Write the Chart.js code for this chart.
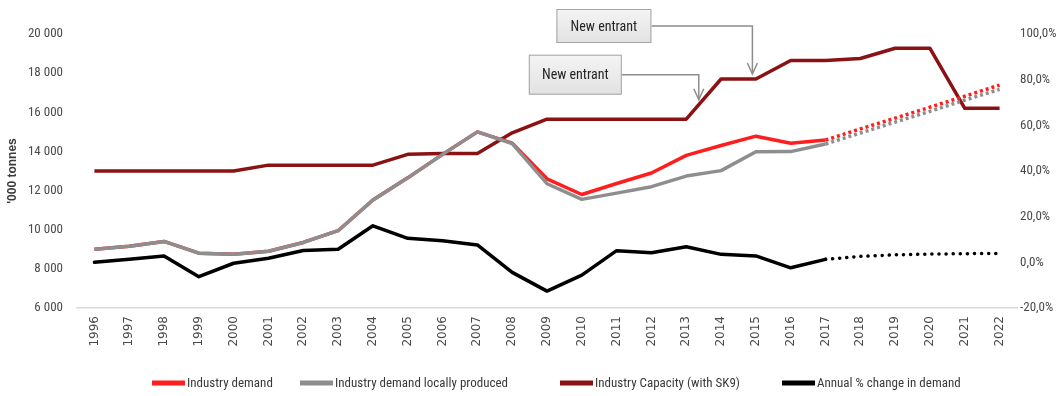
<!DOCTYPE html>
<html>
<head>
<meta charset="utf-8">
<script src="https://cdn.jsdelivr.net/npm/chart.js@4.4.1/dist/chart.umd.min.js"></script>
<style>
  html, body { margin: 0; padding: 0; background: #ffffff; }
  #wrap { width: 1063px; height: 396px; position: relative; }
</style>
</head>
<body>
<div id="wrap"><canvas id="chart" width="1063" height="396"></canvas></div>
<script>
// Years on the category axis
const years = ['1996','1997','1998','1999','2000','2001','2002','2003','2004','2005','2006','2007','2008','2009',
               '2010','2011','2012','2013','2014','2015','2016','2017','2018','2019','2020','2021','2022'];

// '000 tonnes
const industryDemand = [9000, 9150, 9400, 8800, 8750, 8900, 9350, 9950, 11520, 12650, 13850, 15000, 14420, 12600,
                        11800, 12360, 12900, 13800, 14300, 14780, 14420, 14580, 15150, 15700, 16260, 16820, 17390];
const locallyProduced = [9000, 9150, 9400, 8800, 8750, 8900, 9350, 9950, 11520, 12650, 13850, 15000, 14400, 12350,
                         11550, 11870, 12200, 12740, 13020, 13980, 13990, 14380, 14940, 15500, 16050, 16620, 17170];
const capacity = [13000, 13000, 13000, 13000, 13000, 13300, 13300, 13300, 13300, 13850, 13900, 13900, 14950, 15650,
                  15650, 15650, 15650, 15650, 17700, 17700, 18650, 18650, 18750, 19270, 19270, 16200, 16200];

// Annual % change in demand
const annualChange = [0.0, 1.4, 2.8, -6.3, -0.4, 1.8, 5.2, 5.7, 16.0, 10.5, 9.5, 7.6, -4.4, -12.6,
                      -5.6, 5.1, 4.2, 6.8, 3.5, 2.8, -2.4, 1.3, 2.6, 3.3, 3.6, 3.8, 3.9];

// Tick values
const leftTicks = [6000, 8000, 10000, 12000, 14000, 16000, 18000, 20000];
const rightTicks = [-20, 0, 20, 40, 60, 80, 100];

// Capacity step-ups pointed out on the chart (year index along the axis)
const entrants = [
  { text: 'New entrant', at: 18.9 },
  { text: 'New entrant', at: 17.36 }
];

const forecastFrom = years.indexOf('2017');
const NARROW = "'Liberation Sans Narrow', 'Roboto Condensed', Roboto, 'Liberation Sans', sans-serif";

const dashAfter = (dash) => ({
  borderDash: ctx => ctx.p0DataIndex >= forecastFrom ? dash : undefined
});

// Callout boxes with elbow connectors
const calloutPlugin = {
  id: 'callouts',
  afterDatasetsDraw(chart) {
    const { ctx } = chart;
    const xs = chart.scales.x, ys = chart.scales.y;
    const geo = [
      { dx: -196, dy: -65, w: 95, h: 34 },
      { dx: -170, dy: -45, w: 93, h: 40 }
    ];
    entrants.forEach((e, i) => {
      const g = geo[i];
      const i0 = Math.floor(e.at), f = e.at - i0;
      const v = capacity[i0] + (capacity[Math.min(i0 + 1, capacity.length - 1)] - capacity[i0]) * f;
      const tx = xs.getPixelForValue(e.at);
      const ty = ys.getPixelForValue(v) - 5;
      const bx = tx + g.dx, by = ty + g.dy;
      const cy = by + g.h / 2;
      ctx.save();
      ctx.strokeStyle = '#8d8d8d';
      ctx.lineWidth = 1.5;
      ctx.beginPath();
      ctx.moveTo(bx + g.w, cy);
      ctx.lineTo(tx, cy);
      ctx.lineTo(tx, ty);
      ctx.stroke();
      ctx.beginPath();
      ctx.moveTo(tx - 5, ty - 11);
      ctx.lineTo(tx, ty);
      ctx.lineTo(tx + 5, ty - 11);
      ctx.stroke();
      const grad = ctx.createLinearGradient(0, by, 0, by + g.h);
      grad.addColorStop(0, '#f4f4f4');
      grad.addColorStop(1, '#e2e2e2');
      ctx.fillStyle = grad;
      ctx.fillRect(bx, by, g.w, g.h);
      ctx.strokeStyle = '#a3a3a3';
      ctx.lineWidth = 1;
      ctx.strokeRect(bx + 0.5, by + 0.5, g.w - 1, g.h - 1);
      ctx.fillStyle = '#262626';
      ctx.font = "14px " + NARROW;
      ctx.textAlign = 'center';
      ctx.textBaseline = 'middle';
      ctx.fillText(e.text, bx + g.w / 2, cy + 1);
      ctx.restore();
    });
  }
};

// Legend row under the axis, drawn from the dataset labels and colours
const legendRowPlugin = {
  id: 'legendRow',
  afterDraw(chart, args, opts) {
    const { ctx } = chart;
    ctx.save();
    ctx.font = opts.size + 'px ' + NARROW;
    ctx.textBaseline = 'middle';
    ctx.textAlign = 'left';
    chart.data.datasets.forEach((d, i) => {
      const x = opts.starts[i];
      ctx.fillStyle = d.borderColor;
      ctx.fillRect(x, opts.y - opts.boxH / 2, opts.box, opts.boxH);
      ctx.fillStyle = '#3a3a3a';
      ctx.fillText(d.label, x + opts.box + opts.gapText, opts.y + 1);
    });
    ctx.restore();
  }
};

new Chart(document.getElementById('chart'), {
  type: 'line',
  data: {
    labels: years,
    datasets: [
      { label: 'Industry demand', data: industryDemand, yAxisID: 'y',
        borderColor: '#ff1e1e', backgroundColor: '#ff1e1e', order: 2, segment: dashAfter([3, 3]) },
      { label: 'Industry demand locally produced', data: locallyProduced, yAxisID: 'y',
        borderColor: '#8e8e8e', backgroundColor: '#8e8e8e', order: 1, segment: dashAfter([3, 3]) },
      { label: 'Industry Capacity (with SK9)', data: capacity, yAxisID: 'y',
        borderColor: '#8a1212', backgroundColor: '#8a1212', order: 3 },
      { label: 'Annual % change in demand', data: annualChange, yAxisID: 'y1',
        borderColor: '#000000', backgroundColor: '#000000', order: 0,
        borderCapStyle: 'round', segment: dashAfter([0.1, 7]) }
    ]
  },
  options: {
    responsive: false,
    animation: false,
    devicePixelRatio: 1,
    layout: { padding: { top: 34, bottom: 0, left: 0, right: 0 } },
    elements: {
      point: { radius: 0 },
      line: { borderWidth: 3.5, tension: 0, borderJoinStyle: 'round' }
    },
    plugins: {
      tooltip: { enabled: false },
      legend: { display: false },
      legendRow: { starts: [152, 300, 560, 782], y: 383, box: 33, boxH: 5, gapText: 2, size: 13 }
    },
    scales: {
      x: {
        offset: true,
        grid: { display: false, drawTicks: false },
        border: { display: true, color: '#d9d9d9', width: 1.5 },
        ticks: {
          minRotation: 90, maxRotation: 90, padding: 8, autoSkip: false,
          color: '#4a4a4a',
          font: { family: "'DejaVu Sans', sans-serif", size: 12 }
        },
        afterFit: s => { s.height = 88; }
      },
      y: {
        position: 'left',
        min: 6000, max: 20000,
        afterBuildTicks: s => { s.ticks = leftTicks.map(v => ({ value: v })); },
        grid: { display: false, drawTicks: false },
        border: { display: false },
        ticks: {
          padding: 14,
          color: '#4a4a4a',
          font: { family: NARROW, size: 13 },
          callback: v => String(v).replace(/\B(?=(\d{3})+(?!\d))/g, ' ')
        },
        title: {
          display: true, text: "'000 tonnes", color: '#3a3a3a',
          font: { family: "'Liberation Sans', sans-serif", size: 12, weight: 'bold' },
          padding: { top: 5, bottom: 0 }
        },
        afterFit: s => { s.width = 77; }
      },
      y1: {
        position: 'right',
        min: -20, max: 100,
        afterBuildTicks: s => { s.ticks = rightTicks.map(v => ({ value: v })); },
        grid: { display: false, drawTicks: false },
        border: { display: false },
        ticks: {
          padding: 3,
          color: '#4a4a4a',
          font: { family: NARROW, size: 13 },
          callback: v => v.toFixed(1).replace('.', ',') + '%'
        },
        afterFit: s => { s.width = 46; }
      }
    }
  },
  plugins: [calloutPlugin, legendRowPlugin]
});
</script>
</body>
</html>
